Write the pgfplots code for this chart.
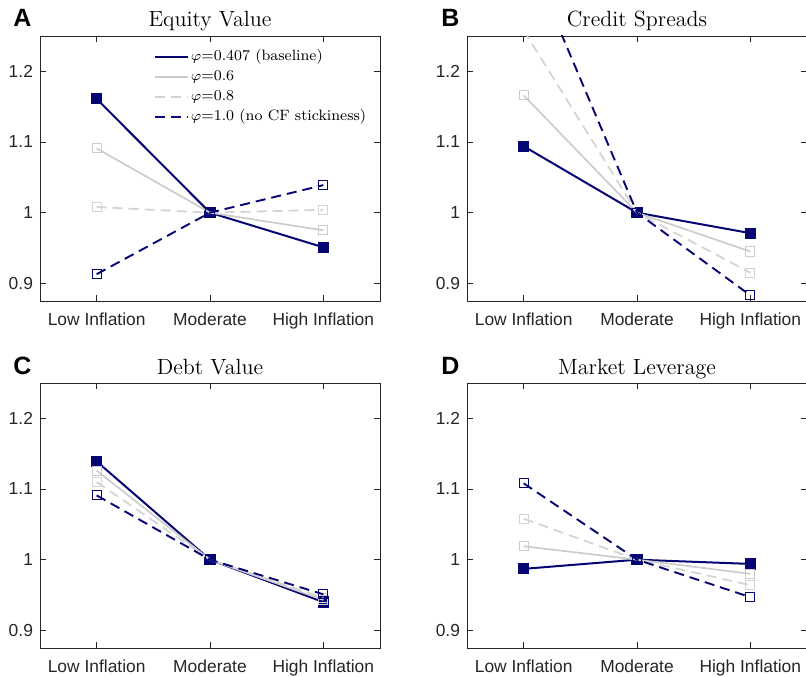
\documentclass[border=0pt]{standalone}
\usepackage{pgfplots}
\pgfplotsset{compat=1.18}
\usepackage{fontspec}
\newfontfamily\arial{Liberation Sans}
\definecolor{navy}{RGB}{5,5,115}
\definecolor{lg}{RGB}{204,204,204}
\definecolor{lgb}{RGB}{212,212,212}
\definecolor{axc}{RGB}{38,38,38}
\pgfplotsset{
 panel/.style={
  scale only axis, width=170pt, height=132.5pt,
  xmin=0.5, xmax=3.5, ymin=0.875, ymax=1.25,
  xtick={1,2,3}, xticklabels={Low Inflation, Moderate, High Inflation},
  ytick={0.9,1,1.1,1.2}, yticklabels={0.9,1,1.1,1.2},
  tick label style={font=\arial\fontsize{8.7}{10}\selectfont, text=axc},
  xticklabel style={yshift=-2.5pt},
  axis line style={axc, line width=0.4pt},
  tick style={axc, line width=0.4pt},
  major tick length=3pt,
  tick align=inside,
  clip mode=individual, clip marker paths=true,
  every axis title/.style={font=\fontsize{11}{12}\selectfont, at={(0.5,1)}, anchor=base, yshift=4.5pt},
 },
 s1/.style={navy, line width=1pt, mark=square*, mark size=2.3pt, mark options={solid, fill=navy}},
 s2/.style={lg, line width=0.85pt, mark=square, mark size=2.3pt, mark options={solid, line width=0.5pt}},
 s3/.style={lgb, line width=0.9pt, dash pattern=on 5pt off 3pt, mark=square, mark size=2.3pt, mark options={solid, line width=0.5pt}},
 s4/.style={navy, line width=0.95pt, dash pattern=on 5pt off 3pt, mark=square, mark size=2.3pt, mark options={solid, line width=0.5pt}},
}
\tikzset{letter/.style={font=\arial\bfseries\fontsize{12.5}{13}\selectfont, anchor=base west, inner sep=0pt}}
\begin{document}
\begin{tikzpicture}[x=1pt,y=1pt]
\useasboundingbox (0,0) rectangle (403,338);
% Panel A
\begin{axis}[panel, at={(20pt,187.5pt)}, anchor=south west, title={Equity Value},
  legend style={draw=none, fill=none, at={(rel axis cs:0.335,0.96)}, anchor=north west,
    font=\fontsize{7.5}{9}\selectfont, inner sep=0pt, row sep=0pt,
    nodes={inner sep=0.8pt, text height=6.2pt, text depth=2.2pt}},
  legend cell align=left,
  legend image code/.code={\draw[#1] (0pt,0pt) -- (16.5pt,0pt);}]
\addplot[s1] coordinates {(1,1.161) (2,1) (3,0.951)};
\addlegendentry{$\varphi$=0.407 (baseline)}
\addplot[s2] coordinates {(1,1.091) (2,1) (3,0.975)};
\addlegendentry{$\varphi$=0.6}
\addplot[s3] coordinates {(1,1.008) (2,1) (3,1.004)};
\addlegendentry{$\varphi$=0.8}
\addplot[s4] coordinates {(1,0.913) (2,1) (3,1.039)};
\addlegendentry{$\varphi$=1.0 (no CF stickiness)}
\node[letter, xshift=-13.5pt, yshift=4.5pt] at (rel axis cs:0,1) {A};
\end{axis}
% Panel B
\begin{axis}[panel, at={(233.5pt,187.5pt)}, anchor=south west, title={Credit Spreads}]
\addplot[s1] coordinates {(1,1.094) (2,1) (3,0.971)};
\addplot[s2] coordinates {(1,1.166) (2,1) (3,0.945)};
\addplot[s3] coordinates {(1,1.258) (2,1) (3,0.915)};
\addplot[s4] coordinates {(1,1.379) (2,1) (3,0.883)};
\node[letter, xshift=-13pt, yshift=4.5pt] at (rel axis cs:0,1) {B};
\end{axis}
% Panel C
\begin{axis}[panel, at={(20pt,14pt)}, anchor=south west, title={Debt Value}]
\addplot[s1] coordinates {(1,1.139) (2,1) (3,0.940)};
\addplot[s2] coordinates {(1,1.126) (2,1) (3,0.943)};
\addplot[s3] coordinates {(1,1.110) (2,1) (3,0.946)};
\addplot[s4] coordinates {(1,1.091) (2,1) (3,0.951)};
\node[letter, xshift=-13.5pt, yshift=4.5pt] at (rel axis cs:0,1) {C};
\end{axis}
% Panel D
\begin{axis}[panel, at={(233.5pt,14pt)}, anchor=south west, title={Market Leverage}]
\addplot[s1] coordinates {(1,0.987) (2,1) (3,0.994)};
\addplot[s2] coordinates {(1,1.019) (2,1) (3,0.980)};
\addplot[s3] coordinates {(1,1.058) (2,1) (3,0.964)};
\addplot[s4] coordinates {(1,1.108) (2,1) (3,0.947)};
\node[letter, xshift=-13pt, yshift=4.5pt] at (rel axis cs:0,1) {D};
\end{axis}
\end{tikzpicture}
\end{document}
